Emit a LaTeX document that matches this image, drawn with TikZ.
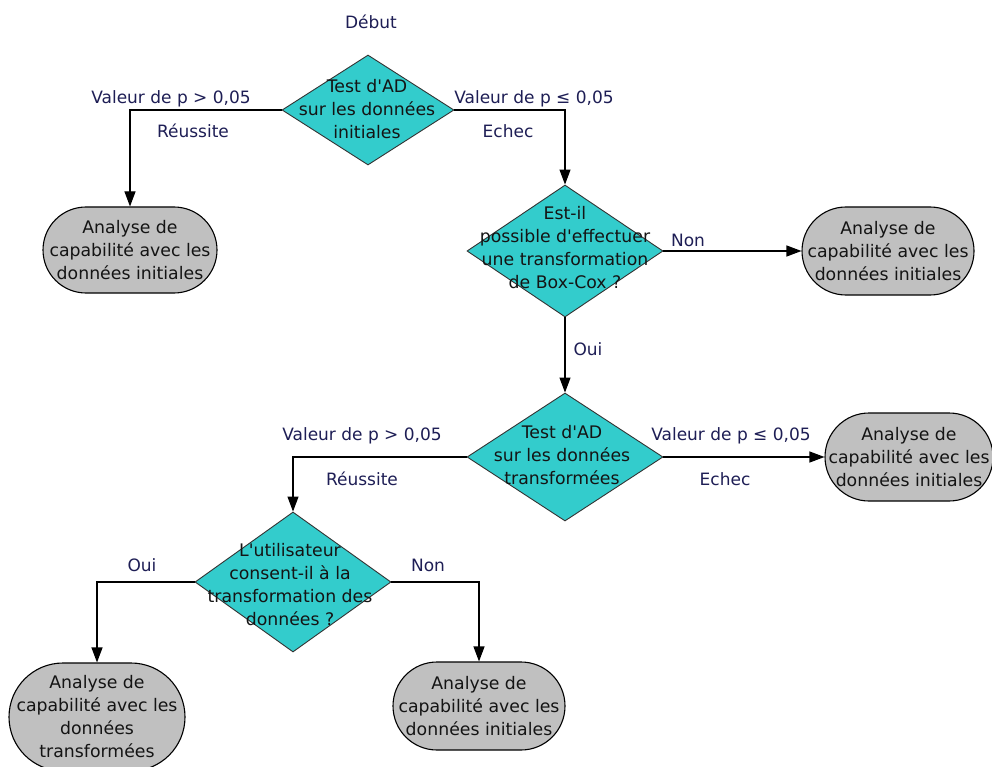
\documentclass[tikz,border=0pt]{standalone}
\usepackage{fontspec}
\setmainfont{DejaVu Sans}
\usetikzlibrary{shapes.geometric,arrows.meta}
\definecolor{diacyan}{RGB}{51,204,204}
\definecolor{stgray}{RGB}{192,192,192}
\definecolor{lblcol}{RGB}{30,30,85}
\definecolor{txtcol}{RGB}{20,20,20}
\newcommand{\apos}{\textquotesingle}
\tikzset{
  dia/.style={diamond, draw=black!80, line width=0.9pt, fill=diacyan, inner sep=0pt, aspect=1},
  stadium/.style={rectangle, draw=black, line width=1.1pt, fill=stgray, inner sep=0pt, align=center,
     text=txtcol, font=\fontsize{17.3}{23}\selectfont},
  ntext/.style={align=center, text=txtcol, font=\fontsize{17.3}{23}\selectfont, inner sep=0pt},
  lbl/.style={text=lblcol, font=\fontsize{17}{20}\selectfont, inner sep=0pt},
  conn/.style={draw=black, line width=1.1pt},
  arr/.style={conn, -{Triangle[width=11pt,length=15pt]}}
}
\begin{document}
\begin{tikzpicture}[x=1pt,y=-1pt]
\useasboundingbox (0,0) rectangle (992,767);
\clip (0,0) rectangle (992,767);
\fill[white] (0,0) rectangle (992,767);

% diamonds
\node[dia, minimum width=172pt, minimum height=110pt] (d1) at (368,110) {};
\node[ntext] (t1) at (367,109) {Test d\apos AD\\sur les données\\initiales};
\node[dia, minimum width=196pt, minimum height=132pt] (d2) at (565,251) {};
\node[ntext] (t2) at (565,248) {Est-il\\possible d\apos effectuer\\une transformation\\de Box-Cox ?};
\node[dia, minimum width=196pt, minimum height=128pt] (d3) at (565,457) {};
\node[ntext] (t3) at (562,455) {Test d\apos AD\\sur les données\\transformées};
\node[dia, minimum width=196pt, minimum height=140pt] (d4) at (293,582) {};
\node[ntext] (t4) at (290,585) {L\apos utilisateur\\consent-il à la\\transformation des\\données ?};

% stadiums
\node[stadium, minimum width=174pt, minimum height=86pt, rounded corners=43pt] (s1) at (130,250)
  {Analyse de\\capabilité avec les\\données initiales};
\node[stadium, minimum width=172pt, minimum height=88pt, rounded corners=44pt] (s2) at (888,251)
  {Analyse de\\capabilité avec les\\données initiales};
\node[stadium, minimum width=168pt, minimum height=88pt, rounded corners=44pt] (s3) at (909,457)
  {Analyse de\\capabilité avec les\\données initiales};
\node[stadium, minimum width=176pt, minimum height=108pt, rounded corners=54pt] (s4) at (97,717)
  {Analyse de\\capabilité avec les\\données\\transformées};
\node[stadium, minimum width=172pt, minimum height=88pt, rounded corners=44pt] (s5) at (479,706)
  {Analyse de\\capabilité avec les\\données initiales};

% connectors
\draw[arr] (d1.west) -| (s1.north);
\draw[arr] (d1.east) -| (d2.north);
\draw[arr] (d2.east) -- (s2.west);
\draw[arr] (d2.south) -- (d3.north);
\draw[arr] (d3.east) -- (s3.west);
\draw[arr] (d3.west) -| (d4.north);
\draw[arr] (d4.west) -| (s4.north);
\draw[arr] (d4.east) -| (s5.north);

% labels
\node[lbl] (l0) at (371,22) {Début};
\node[lbl] (l1) at (171,99) {Valeur de p > 0,05};
\node[lbl] (l2) at (193,131) {Réussite};
\node[lbl] (l3) at (534,99) {Valeur de p ≤ 0,05};
\node[lbl] (l4) at (508,131) {Echec};
\node[lbl] (l5) at (688,240) {Non};
\node[lbl] (l6) at (588,349) {Oui};
\node[lbl] (l7) at (362,436) {Valeur de p > 0,05};
\node[lbl] (l8) at (362,479) {Réussite};
\node[lbl] (l9) at (731,436) {Valeur de p ≤ 0,05};
\node[lbl] (l10) at (725,479) {Echec};
\node[lbl] (l11) at (142,565) {Oui};
\node[lbl] (l12) at (428,565) {Non};
\end{tikzpicture}
\end{document}
